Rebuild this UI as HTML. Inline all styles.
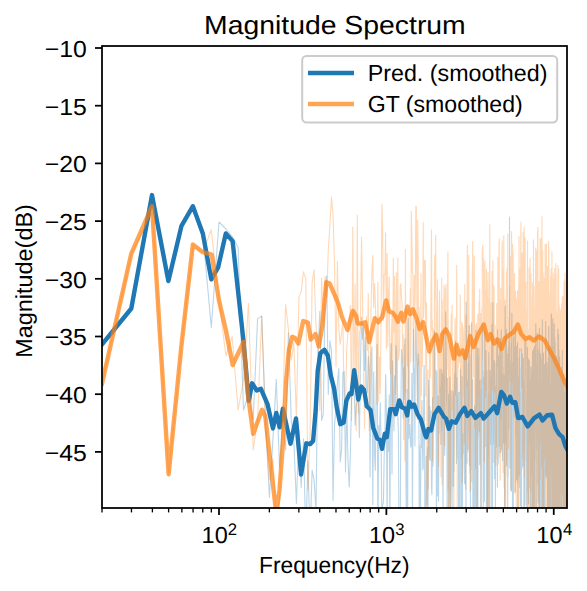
<!DOCTYPE html>
<html><head><meta charset="utf-8"><style>
html,body{margin:0;padding:0;background:#fff;width:587px;height:591px;overflow:hidden}
svg{display:block}
text{font-family:"Liberation Sans",sans-serif;fill:#000;text-rendering:geometricPrecision}
</style></head><body>
<svg width="587" height="591" viewBox="0 0 587 591">
<rect width="587" height="591" fill="#fff"/>
<defs><clipPath id="ax"><rect x="102" y="46" width="465" height="462"/></clipPath></defs>
<g clip-path="url(#ax)" fill="none" stroke-linejoin="round" stroke-linecap="butt">
<polyline points="102.0,344.4 131.5,307.5 152.4,197.1 168.6,280.2 181.9,225.2 193.1,206.7 202.8,233.3 211.3,327.5 219.0,222.0 225.9,229.0 232.2,236.3 238.1,247.3 243.5,410.0 248.5,395.0 253.2,420.0 257.6,318.6 261.7,316.1 265.6,420.0 269.4,497.4 272.9,440.0 276.3,379.4 279.5,467.0 282.6,420.0 285.6,450.0 288.4,332.9 291.2,420.0 293.8,440.0 296.4,503.5 298.9,430.0 301.2,487.5 303.5,438.9 305.8,540.0 307.9,460.7 310.1,540.0 312.1,470.0 314.1,480.4 316.0,511.0 317.9,356.3 319.8,311.4 321.6,420.4 323.3,414.0 325.0,299.2 326.7,276.0 328.3,394.5 329.9,340.8 331.5,350.8 333.0,500.4 334.5,425.4 336.0,407.8 337.4,383.0 338.8,368.6 340.2,462.0 341.6,449.7 342.9,372.6 344.2,371.7 345.5,471.9 346.8,406.4 348.0,460.6 349.2,486.9 350.4,453.3 351.6,395.6 352.8,380.6 353.9,378.8 355.1,425.3 356.2,405.5 357.3,402.2 358.3,397.0 359.4,437.5 360.4,367.3 361.5,317.2 362.5,339.1 363.5,324.3 364.5,370.4 365.5,337.1 366.4,385.5 367.4,393.1 368.3,356.5 369.2,369.4 370.1,476.9 371.1,355.1 371.9,346.7 372.8,504.7 373.7,371.8 374.6,456.6 375.4,470.2 376.2,382.4 377.1,344.5 377.9,540.0 378.7,425.5 379.5,436.1 380.3,402.6 381.1,443.4 381.9,522.0 382.6,504.8 383.4,502.7 384.2,455.2 384.9,442.0 385.6,374.6 386.4,409.2 387.1,525.8 387.8,424.3 388.5,451.4 389.2,394.9 389.9,540.0 390.6,370.9 391.3,343.7 392.0,473.9 392.6,360.8 393.3,394.0 394.0,430.7 394.6,375.7 395.3,416.7 395.9,345.5 396.5,350.8 397.2,405.9 397.8,416.3 398.4,431.5 399.0,540.0 399.6,534.5 400.2,540.0 400.8,422.2 401.4,349.5 402.0,354.0 402.6,367.9 403.2,418.1 403.7,368.1 404.3,399.3 404.9,338.9 405.4,371.1 406.0,487.2 406.6,540.0 407.1,389.6 407.6,540.0 408.2,318.6 408.7,438.4 409.3,427.1 409.8,424.4 410.3,440.6 410.8,447.1 411.3,441.6 411.9,373.3 412.4,527.9 412.9,435.1 413.4,329.3 413.9,373.8 414.4,368.6 414.9,446.0 415.4,342.6 415.8,320.2 416.3,355.4 416.8,361.6 417.3,378.7 417.8,418.7 418.2,353.8 418.7,362.8 419.2,509.6 419.6,445.7 420.1,485.1 420.5,519.3 421.0,425.2 421.4,447.7 421.9,400.3 422.3,428.0 422.8,469.9 423.2,467.4 423.6,411.5 424.1,365.2 424.5,399.7 424.9,540.0 425.4,540.0 425.8,514.0 426.2,456.2 426.6,504.6 427.0,470.5 427.5,447.6 427.9,540.0 428.3,438.2 428.7,380.4 429.1,403.1 429.5,459.1 429.9,406.5 430.3,460.5 430.7,435.0 431.1,410.9 431.5,487.9 431.9,494.6 432.3,450.7 432.6,397.5 433.0,466.1 433.4,422.4 433.8,431.5 434.2,354.6 434.5,330.9 434.9,334.3 435.3,401.3 435.7,418.3 436.0,370.0 436.4,512.1 436.8,371.9 437.1,402.1 437.5,495.9 437.8,416.6 438.2,396.1 438.5,501.0 438.9,429.6 439.3,433.5 439.6,395.9 440.0,368.8 440.3,406.3 440.6,387.1 441.0,444.4 441.3,404.4 441.7,369.7 442.0,389.2 442.3,430.5 442.7,373.5 443.0,511.4 443.4,456.0 443.7,330.2 444.0,368.1 444.3,432.6 444.7,455.3 445.0,376.9 445.3,416.4 445.6,311.7 446.0,344.3 446.3,366.1 446.6,401.7 446.9,406.8 447.2,540.0 447.5,378.2 447.9,489.9 448.2,403.7 448.5,394.2 448.8,540.0 449.1,470.9 449.4,442.9 449.7,391.3 450.0,377.3 450.3,530.5 450.6,495.4 450.9,471.3 451.2,390.2 451.5,401.2 451.8,477.3 452.1,509.2 452.4,431.3 452.7,440.5 453.0,391.3 453.3,486.2 453.6,394.4 453.8,471.3 454.1,431.7 454.4,388.7 454.7,374.1 455.0,420.2 455.3,389.4 455.5,341.0 455.8,358.2 456.1,394.9 456.4,463.4 456.7,377.5 456.9,383.2 457.2,416.0 457.5,399.2 457.8,410.1 458.0,458.8 458.3,392.2 458.6,540.0 458.8,540.0 459.1,492.1 459.4,540.0 459.6,392.4 459.9,457.8 460.2,429.8 460.4,369.1 460.7,482.9 461.0,540.0 461.2,407.1 461.5,429.0 461.7,398.2 462.0,376.2 462.2,540.0 462.5,479.5 462.8,464.3 463.0,433.8 463.3,453.7 463.5,448.9 463.8,435.3 464.0,353.5 464.3,361.6 464.5,483.8 464.8,351.9 465.0,442.5 465.3,445.4 465.5,482.9 465.7,401.3 466.0,540.0 466.2,302.1 466.5,345.0 466.7,441.0 467.0,463.1 467.2,387.8 467.4,381.0 467.7,407.3 467.9,449.1 468.1,419.6 468.4,363.8 468.6,406.1 468.8,349.9 469.1,325.6 469.3,390.9 469.5,465.3 469.8,418.6 470.0,415.0 470.2,430.0 470.5,515.6 470.7,415.7 470.9,469.5 471.1,355.3 471.4,402.3 471.6,322.7 471.8,414.8 472.0,394.3 472.3,408.8 472.5,380.4 472.7,379.7 472.9,540.0 473.2,426.9 473.4,474.2 473.6,499.6 473.8,540.0 474.0,410.7 474.3,481.1 474.5,428.8 474.7,405.8 474.9,472.9 475.1,520.2 475.3,491.3 475.5,530.3 475.8,385.4 476.0,330.4 476.2,383.2 476.4,512.8 476.6,474.6 476.8,387.8 477.0,442.8 477.2,439.1 477.4,347.8 477.6,540.0 477.8,540.0 478.1,406.3 478.3,399.9 478.5,357.0 478.7,407.1 478.9,348.8 479.1,414.7 479.3,437.4 479.5,430.3 479.7,464.7 479.9,434.1 480.1,380.1 480.3,429.0 480.5,433.4 480.7,396.3 480.9,529.5 481.1,469.4 481.3,388.4 481.5,402.1 481.7,379.7 481.9,412.6 482.1,371.3 482.3,334.0 482.4,323.4 482.6,382.9 482.8,410.7 483.0,371.1 483.2,512.1 483.4,411.9 483.6,420.4 483.8,377.6 484.0,442.5 484.2,399.7 484.4,501.7 484.6,439.0 484.7,331.6 484.9,333.2 485.1,409.3 485.3,443.8 485.5,446.5 485.7,433.0 485.9,389.9 486.0,350.5 486.2,396.3 486.4,540.0 486.6,513.1 486.8,370.7 487.0,410.8 487.1,540.0 487.3,413.0 487.5,540.0 487.7,464.4 487.9,432.1 488.0,540.0 488.2,435.6 488.4,393.1 488.6,453.2 488.8,352.6 488.9,355.8 489.1,455.6 489.3,386.0 489.5,510.0 489.6,402.1 489.8,538.7 490.0,370.6 490.2,397.1 490.3,377.2 490.5,430.4 490.7,444.5 490.9,429.4 491.0,387.7 491.2,395.2 491.4,368.7 491.5,406.8 491.7,339.8 491.9,324.9 492.1,336.0 492.2,420.4 492.4,540.0 492.6,479.8 492.7,337.2 492.9,302.6 493.1,371.7 493.2,444.1 493.4,405.1 493.6,393.3 493.7,379.1 493.9,376.0 494.1,360.3 494.2,406.3 494.4,365.2 494.6,478.7 494.7,362.7 494.9,395.0 495.1,419.3 495.2,427.1 495.4,514.0 495.5,490.4 495.7,461.5 495.9,397.5 496.0,386.2 496.2,389.9 496.3,404.4 496.5,360.4 496.7,446.9 496.8,351.5 497.0,337.9 497.1,367.0 497.3,422.4 497.5,486.9 497.6,329.7 497.8,433.1 497.9,380.7 498.1,393.5 498.2,463.9 498.4,419.4 498.6,355.9 498.7,426.6 498.9,419.2 499.0,446.3 499.2,369.3 499.3,394.3 499.5,363.2 499.6,414.8 499.8,351.0 499.9,350.3 500.1,360.3 500.2,452.6 500.4,338.3 500.5,352.9 500.7,352.4 500.8,418.8 501.0,340.2 501.1,363.3 501.3,329.8 501.4,388.1 501.6,381.1 501.7,449.2 501.9,374.5 502.0,450.0 502.2,446.2 502.3,373.9 502.5,386.2 502.6,460.7 502.8,351.9 502.9,385.3 503.1,367.0 503.2,410.5 503.4,402.5 503.5,411.0 503.7,443.0 503.8,383.5 503.9,374.9 504.1,382.9 504.2,422.0 504.4,407.3 504.5,474.3 504.7,506.5 504.8,481.5 504.9,505.1 505.1,306.2 505.2,317.5 505.4,346.5 505.5,405.4 505.7,412.2 505.8,368.6 505.9,406.9 506.1,444.1 506.2,360.5 506.4,329.5 506.5,370.1 506.6,466.0 506.8,399.5 506.9,396.1 507.0,391.8 507.2,438.6 507.3,371.1 507.5,353.8 507.6,392.0 507.7,518.1 507.9,401.7 508.0,458.3 508.1,477.6 508.3,390.9 508.4,347.2 508.6,376.4 508.7,428.7 508.8,347.0 509.0,340.4 509.1,355.3 509.2,337.3 509.4,418.7 509.5,217.0 509.6,300.0 509.8,468.0 509.9,359.8 510.0,370.9 510.2,366.3 510.3,388.9 510.4,387.4 510.6,382.1 510.7,438.1 510.8,490.4 510.9,385.9 511.1,427.1 511.2,348.6 511.3,343.1 511.5,491.3 511.6,452.5 511.7,332.2 511.9,313.2 512.0,441.9 512.1,410.7 512.2,362.1 512.4,398.2 512.5,540.0 512.6,363.3 512.8,388.4 512.9,387.0 513.0,425.2 513.1,394.6 513.3,520.8 513.4,410.4 513.5,343.1 513.6,337.4 513.8,380.6 513.9,417.2 514.0,333.2 514.2,408.6 514.3,348.7 514.4,375.1 514.5,352.0 514.6,348.2 514.8,396.7 514.9,361.5 515.0,356.1 515.1,368.0 515.3,346.2 515.4,492.1 515.5,329.3 515.6,381.5 515.8,426.9 515.9,431.6 516.0,413.9 516.1,412.1 516.2,369.2 516.4,366.5 516.5,346.0 516.6,479.8 516.7,350.9 516.9,392.9 517.0,377.0 517.1,348.7 517.2,365.9 517.3,369.9 517.5,342.3 517.6,393.0 517.7,517.1 517.8,540.0 517.9,379.0 518.1,431.8 518.2,440.4 518.3,389.8 518.4,396.2 518.5,377.2 518.6,387.3 518.8,445.5 518.9,426.6 519.0,477.6 519.1,367.1 519.2,357.4 519.3,394.0 519.5,462.7 519.6,487.6 519.7,348.7 519.8,381.9 519.9,371.9 520.0,367.4 520.2,505.7 520.3,464.7 520.4,406.6 520.5,502.3 520.6,456.1 520.7,392.9 520.8,498.3 521.0,446.5 521.1,402.7 521.2,540.0 521.3,348.9 521.4,402.7 521.5,540.0 521.6,367.7 521.8,365.3 521.9,419.9 522.0,469.0 522.1,406.0 522.2,353.6 522.3,455.7 522.4,406.5 522.5,432.9 522.7,384.8 522.8,362.6 522.9,383.8 523.0,466.1 523.1,374.9 523.2,369.0 523.3,358.3 523.4,404.1 523.5,383.2 523.7,449.8 523.8,417.8 523.9,398.7 524.0,392.6 524.1,395.5 524.2,381.8 524.3,394.4 524.4,528.1 524.5,522.5 524.6,451.8 524.7,409.8 524.9,340.2 525.0,504.7 525.1,462.1 525.2,422.4 525.3,366.7 525.4,365.9 525.5,378.4 525.6,397.7 525.7,411.4 525.8,341.2 525.9,341.1 526.0,364.5 526.1,441.7 526.2,424.2 526.4,461.2 526.5,401.7 526.6,439.0 526.7,500.5 526.8,435.6 526.9,515.8 527.0,485.1 527.1,476.1 527.2,471.6 527.3,492.4 527.4,347.4 527.5,436.7 527.6,400.2 527.7,375.5 527.8,412.5 527.9,419.5 528.0,411.1 528.1,409.9 528.2,429.7 528.3,423.6 528.4,358.8 528.5,504.0 528.6,421.6 528.7,415.0 528.9,380.2 529.0,430.2 529.1,444.9 529.2,361.8 529.3,360.5 529.4,393.3 529.5,401.5 529.6,382.2 529.7,397.5 529.8,394.3 529.9,387.7 530.0,472.5 530.1,487.6 530.2,465.9 530.3,411.1 530.4,380.4 530.5,380.3 530.6,521.6 530.7,504.2 530.8,367.0 530.9,371.1 531.0,417.0 531.1,370.1 531.2,385.1 531.3,478.1 531.4,427.3 531.5,454.5 531.6,375.9 531.7,379.1 531.8,412.9 531.9,540.0 532.0,540.0 532.1,420.0 532.2,422.1 532.3,422.2 532.3,389.5 532.4,361.1 532.5,456.5 532.6,351.3 532.7,515.9 532.8,515.8 532.9,522.9 533.0,438.7 533.1,421.2 533.2,350.5 533.3,355.7 533.4,425.6 533.5,462.1 533.6,397.7 533.7,359.8 533.8,348.4 533.9,540.0 534.0,352.8 534.1,388.2 534.2,401.1 534.3,388.1 534.4,363.3 534.5,410.1 534.6,346.1 534.7,433.3 534.7,540.0 534.8,396.7 534.9,426.2 535.0,540.0 535.1,408.0 535.2,518.7 535.3,540.0 535.4,405.9 535.5,382.1 535.6,361.6 535.7,338.0 535.8,323.9 535.9,418.8 536.0,393.4 536.1,406.6 536.2,416.7 536.2,398.3 536.3,448.8 536.4,417.0 536.5,364.9 536.6,383.9 536.7,459.4 536.8,525.4 536.9,378.7 537.0,377.9 537.1,386.4 537.2,333.1 537.3,365.6 537.3,403.5 537.4,454.7 537.5,484.2 537.6,378.8 537.7,350.2 537.8,381.0 537.9,431.5 538.0,468.0 538.1,434.6 538.2,460.2 538.2,467.1 538.3,502.7 538.4,463.5 538.5,385.3 538.6,400.9 538.7,445.7 538.8,384.9 538.9,494.0 539.0,349.4 539.1,409.5 539.1,361.3 539.2,520.8 539.3,344.9 539.4,328.0 539.5,484.7 539.6,351.2 539.7,437.7 539.8,540.0 539.9,489.3 539.9,502.9 540.0,381.4 540.1,371.7 540.2,466.3 540.3,540.0 540.4,421.9 540.5,435.9 540.6,353.9 540.6,448.1 540.7,511.9 540.8,386.5 540.9,404.8 541.0,380.0 541.1,426.2 541.2,393.8 541.2,476.3 541.3,540.0 541.4,535.5 541.5,390.8 541.6,392.9 541.7,540.0 541.8,359.0 541.8,383.3 541.9,382.5 542.0,507.4 542.1,440.4 542.2,393.5 542.3,319.9 542.4,345.9 542.4,485.5 542.5,540.0 542.6,386.5 542.7,516.2 542.8,388.8 542.9,380.5 543.0,416.5 543.0,409.0 543.1,392.2 543.2,431.5 543.3,508.7 543.4,465.8 543.5,433.9 543.5,353.0 543.6,388.0 543.7,487.6 543.8,493.3 543.9,382.3 544.0,368.4 544.0,540.0 544.1,387.3 544.2,364.5 544.3,449.9 544.4,411.0 544.5,381.5 544.5,396.2 544.6,437.9 544.7,506.8 544.8,365.1 544.9,418.1 544.9,517.8 545.0,388.0 545.1,425.6 545.2,381.1 545.3,397.5 545.4,449.8 545.4,466.8 545.5,361.8 545.6,329.6 545.7,321.6 545.8,347.8 545.8,449.3 545.9,474.3 546.0,338.2 546.1,455.7 546.2,476.9 546.2,470.8 546.3,377.9 546.4,437.5 546.5,438.8 546.6,475.0 546.7,394.5 546.7,391.8 546.8,371.8 546.9,362.5 547.0,373.2 547.1,368.0 547.1,416.2 547.2,441.7 547.3,424.0 547.4,480.1 547.4,385.5 547.5,498.1 547.6,540.0 547.7,429.9 547.8,418.9 547.8,376.0 547.9,478.5 548.0,539.4 548.1,498.8 548.2,436.1 548.2,435.6 548.3,357.2 548.4,405.6 548.5,412.0 548.5,513.5 548.6,445.6 548.7,328.2 548.8,326.4 548.9,486.9 548.9,421.0 549.0,351.9 549.1,429.2 549.2,514.2 549.2,446.0 549.3,465.2 549.4,372.5 549.5,504.1 549.6,379.1 549.6,372.9 549.7,540.0 549.8,446.9 549.9,346.9 549.9,466.3 550.0,483.4 550.1,448.3 550.2,440.3 550.2,512.1 550.3,458.0 550.4,402.8 550.5,540.0 550.6,407.5 550.6,389.5 550.7,450.7 550.8,410.8 550.9,383.4 550.9,440.6 551.0,462.7 551.1,523.0 551.2,336.1 551.2,314.7 551.3,450.1 551.4,314.0 551.5,321.0 551.5,341.4 551.6,349.4 551.7,386.8 551.8,406.8 551.8,398.1 551.9,426.4 552.0,467.8 552.1,393.8 552.1,382.6 552.2,447.4 552.3,444.6 552.4,540.0 552.4,446.7 552.5,404.2 552.6,372.8 552.6,367.3 552.7,341.3 552.8,318.7 552.9,357.7 552.9,449.5 553.0,451.6 553.1,481.6 553.2,524.0 553.2,540.0 553.3,465.4 553.4,347.2 553.5,389.6 553.5,413.3 553.6,382.6 553.7,535.2 553.7,452.1 553.8,492.4 553.9,429.4 554.0,427.0 554.0,485.7 554.1,374.6 554.2,323.9 554.3,337.5 554.3,464.6 554.4,503.7 554.5,374.6 554.5,401.2 554.6,352.5 554.7,338.6 554.8,540.0 554.8,436.7 554.9,401.0 555.0,443.0 555.0,400.7 555.1,342.6 555.2,387.7 555.3,419.2 555.3,540.0 555.4,403.5 555.5,374.3 555.5,361.7 555.6,419.5 555.7,409.7 555.8,414.6 555.8,466.0 555.9,428.5 556.0,477.6 556.0,409.1 556.1,477.9 556.2,540.0 556.2,355.9 556.3,447.4 556.4,400.8 556.5,472.4 556.5,477.5 556.6,508.4 556.7,540.0 556.7,423.8 556.8,449.7 556.9,439.9 556.9,453.5 557.0,390.8 557.1,430.8 557.2,517.1 557.2,371.2 557.3,432.7 557.4,489.4 557.4,417.3 557.5,484.3 557.6,365.8 557.6,526.7 557.7,477.1 557.8,540.0 557.8,367.6 557.9,329.2 558.0,372.5 558.1,510.7 558.1,481.2 558.2,495.0 558.3,534.1 558.3,450.5 558.4,402.0 558.5,457.6 558.5,334.6 558.6,374.1 558.7,455.3 558.7,414.1 558.8,504.0 558.9,405.5 558.9,350.0 559.0,411.6 559.1,441.7 559.1,424.0 559.2,513.7 559.3,382.2 559.3,411.0 559.4,531.1 559.5,523.8 559.5,507.7 559.6,389.8 559.7,357.1 559.7,530.6 559.8,540.0 559.9,446.1 559.9,387.6 560.0,374.1 560.1,432.5 560.1,464.0 560.2,406.9 560.3,410.6 560.3,502.4 560.4,398.1 560.5,453.3 560.5,540.0 560.6,425.8 560.7,502.1 560.7,414.8 560.8,502.1 560.9,452.0 560.9,451.0 561.0,378.7 561.1,540.0 561.1,457.8 561.2,540.0 561.3,475.8 561.3,498.2 561.4,392.4 561.5,463.3 561.5,465.1 561.6,428.5 561.7,367.4 561.7,374.8 561.8,540.0 561.9,391.1 561.9,386.9 562.0,419.3 562.0,510.1 562.1,507.7 562.2,435.4 562.2,477.3 562.3,350.4 562.4,452.4 562.4,428.7 562.5,411.0 562.6,449.5 562.6,382.9 562.7,485.7 562.8,482.7 562.8,417.6 562.9,394.5 563.0,438.9 563.0,494.4 563.1,470.4 563.1,494.0 563.2,419.8 563.3,430.9 563.3,488.6 563.4,419.8 563.5,517.4 563.5,466.6 563.6,374.7 563.7,392.8 563.7,458.7 563.8,398.3 563.8,387.6 563.9,473.8 564.0,513.4 564.0,473.7 564.1,507.4 564.2,400.8 564.2,401.5 564.3,411.7 564.3,411.9 564.4,540.0 564.5,425.6 564.5,397.6 564.6,515.2 564.7,457.4 564.7,392.3 564.8,475.8 564.8,503.2 564.9,395.3 565.0,482.4 565.0,444.3 565.1,401.2 565.2,408.1 565.2,393.6 565.3,404.8 565.3,378.7 565.4,436.1 565.5,449.9 565.5,418.7 565.6,462.2 565.7,477.4 565.7,405.3 565.8,379.3 565.8,540.0 565.9,390.5 566.0,520.2 566.0,489.9 566.1,507.2 566.1,513.2 566.2,433.3 566.3,428.7 566.3,540.0 566.4,416.8 566.5,381.7 566.5,409.2 566.6,405.6 566.6,466.7 566.7,456.7 566.8,408.3 566.8,431.6 566.9,408.6 566.9,431.4 567.0,362.2" stroke="#1f77b4" stroke-opacity="0.3" stroke-width="1.1"/>
<polyline points="102.0,383.5 131.5,253.2 152.4,212.4 168.6,474.1 181.9,341.8 193.1,244.6 202.8,252.2 211.3,229.7 219.0,300.0 225.9,356.0 232.2,336.4 238.1,410.0 243.5,380.0 248.5,303.4 253.2,450.0 257.6,420.0 261.7,316.0 265.6,430.0 269.4,480.0 272.9,458.9 276.3,520.0 279.5,500.0 282.6,420.0 285.6,304.0 288.4,329.0 291.2,360.0 293.8,342.6 296.4,418.6 298.9,297.5 301.2,291.6 303.5,271.9 305.8,278.6 307.9,490.0 310.1,431.9 312.1,283.2 314.1,269.9 316.0,326.9 317.9,342.3 319.8,410.4 321.6,278.0 323.3,326.3 325.0,276.4 326.7,297.1 328.3,250.0 329.9,225.0 331.5,197.0 333.0,215.0 334.5,262.0 336.0,366.8 337.4,261.6 338.8,328.2 340.2,344.3 341.6,333.0 342.9,321.1 344.2,408.2 345.5,400.4 346.8,347.7 348.0,332.3 349.2,320.2 350.4,305.6 351.6,420.6 352.8,227.0 353.9,385.5 355.1,283.9 356.2,430.4 357.3,215.0 358.3,413.3 359.4,333.4 360.4,328.5 361.5,237.1 362.5,298.5 363.5,367.3 364.5,428.6 365.5,366.1 366.4,316.4 367.4,350.4 368.3,293.6 369.2,430.3 370.1,383.2 371.1,306.9 371.9,272.7 372.8,255.5 373.7,307.9 374.6,283.6 375.4,305.1 376.2,332.6 377.1,404.5 377.9,282.3 378.7,401.8 379.5,357.2 380.3,393.4 381.1,308.7 381.9,204.2 382.6,228.0 383.4,320.8 384.2,274.1 384.9,274.4 385.6,232.9 386.4,348.8 387.1,253.6 387.8,346.5 388.5,296.6 389.2,276.7 389.9,365.0 390.6,373.7 391.3,334.9 392.0,315.7 392.6,408.0 393.3,258.3 394.0,332.0 394.6,276.4 395.3,394.1 395.9,326.1 396.5,272.8 397.2,406.9 397.8,257.7 398.4,359.8 399.0,357.1 399.6,348.6 400.2,285.4 400.8,283.7 401.4,295.3 402.0,302.1 402.6,361.6 403.2,334.3 403.7,439.7 404.3,344.7 404.9,461.0 405.4,249.6 406.0,392.8 406.6,308.5 407.1,347.4 407.6,366.2 408.2,308.0 408.7,386.7 409.3,422.4 409.8,311.5 410.3,288.4 410.8,362.1 411.3,211.2 411.9,239.6 412.4,272.4 412.9,272.2 413.4,360.7 413.9,342.6 414.4,275.2 414.9,315.3 415.4,279.4 415.8,206.3 416.3,206.3 416.8,284.7 417.3,419.5 417.8,220.0 418.2,273.8 418.7,365.1 419.2,307.4 419.6,370.3 420.1,422.7 420.5,346.4 421.0,273.7 421.4,396.1 421.9,318.3 422.3,366.7 422.8,316.2 423.2,222.4 423.6,318.0 424.1,303.6 424.5,260.6 424.9,278.7 425.4,260.4 425.8,396.3 426.2,318.7 426.6,302.6 427.0,509.8 427.5,436.4 427.9,370.1 428.3,489.0 428.7,434.9 429.1,454.0 429.5,345.4 429.9,370.1 430.3,377.8 430.7,333.2 431.1,274.5 431.5,229.7 431.9,330.6 432.3,320.0 432.6,461.2 433.0,328.3 433.4,398.1 433.8,331.4 434.2,410.5 434.5,261.6 434.9,255.1 435.3,299.2 435.7,235.2 436.0,341.6 436.4,311.8 436.8,344.2 437.1,319.2 437.5,279.8 437.8,354.2 438.2,419.3 438.5,466.0 438.9,341.9 439.3,314.7 439.6,291.1 440.0,392.2 440.3,374.1 440.6,353.8 441.0,476.8 441.3,444.8 441.7,278.1 442.0,485.1 442.3,300.8 442.7,382.6 443.0,414.1 443.4,365.6 443.7,325.3 444.0,285.1 444.3,439.6 444.7,445.3 445.0,307.3 445.3,288.6 445.6,297.4 446.0,284.0 446.3,320.0 446.6,416.8 446.9,328.6 447.2,369.1 447.5,305.1 447.9,251.9 448.2,340.2 448.5,358.0 448.8,540.0 449.1,390.6 449.4,346.2 449.7,368.4 450.0,348.6 450.3,540.0 450.6,337.4 450.9,341.8 451.2,314.6 451.5,345.7 451.8,333.9 452.1,305.1 452.4,409.6 452.7,395.0 453.0,350.7 453.3,415.4 453.6,385.4 453.8,540.0 454.1,463.3 454.4,355.3 454.7,366.3 455.0,317.7 455.3,323.2 455.5,395.1 455.8,326.9 456.1,343.0 456.4,389.8 456.7,265.4 456.9,291.9 457.2,524.7 457.5,342.3 457.8,418.1 458.0,342.0 458.3,367.4 458.6,367.1 458.8,350.4 459.1,361.9 459.4,358.6 459.6,358.9 459.9,362.3 460.2,294.7 460.4,352.8 460.7,393.8 461.0,343.7 461.2,404.6 461.5,456.7 461.7,321.7 462.0,395.0 462.2,482.7 462.5,324.4 462.8,396.7 463.0,335.0 463.3,353.2 463.5,344.9 463.8,345.0 464.0,327.6 464.3,443.6 464.5,355.2 464.8,284.5 465.0,358.9 465.3,327.0 465.5,382.3 465.7,489.4 466.0,315.3 466.2,331.3 466.5,319.2 466.7,385.6 467.0,351.4 467.2,256.4 467.4,245.3 467.7,334.0 467.9,398.0 468.1,452.2 468.4,379.6 468.6,431.6 468.8,255.2 469.1,364.8 469.3,390.2 469.5,473.1 469.8,325.6 470.0,339.4 470.2,491.5 470.5,421.1 470.7,489.4 470.9,346.1 471.1,413.7 471.4,400.5 471.6,355.2 471.8,481.2 472.0,347.6 472.3,273.7 472.5,264.7 472.7,241.5 472.9,315.9 473.2,350.5 473.4,287.1 473.6,376.9 473.8,366.6 474.0,275.3 474.3,255.9 474.5,331.2 474.7,427.2 474.9,426.7 475.1,332.8 475.3,324.9 475.5,468.5 475.8,374.8 476.0,413.6 476.2,350.1 476.4,416.4 476.6,323.1 476.8,364.7 477.0,426.0 477.2,540.0 477.4,363.1 477.6,383.4 477.8,316.2 478.1,314.0 478.3,360.2 478.5,396.6 478.7,332.2 478.9,430.6 479.1,301.3 479.3,386.4 479.5,431.8 479.7,289.2 479.9,385.0 480.1,324.8 480.3,364.6 480.5,355.0 480.7,313.5 480.9,397.1 481.1,516.8 481.3,370.2 481.5,380.7 481.7,308.8 481.9,323.3 482.1,360.0 482.3,250.8 482.4,248.5 482.6,258.3 482.8,245.0 483.0,255.3 483.2,265.3 483.4,258.1 483.6,317.1 483.8,384.0 484.0,349.6 484.2,462.0 484.4,411.5 484.6,282.2 484.7,265.2 484.9,260.8 485.1,302.8 485.3,327.4 485.5,397.2 485.7,290.7 485.9,344.9 486.0,313.7 486.2,328.8 486.4,269.0 486.6,390.3 486.8,307.0 487.0,297.1 487.1,333.9 487.3,522.3 487.5,470.1 487.7,280.3 487.9,359.6 488.0,272.4 488.2,289.3 488.4,449.8 488.6,540.0 488.8,298.6 488.9,318.9 489.1,437.4 489.3,321.8 489.5,336.6 489.6,267.3 489.8,224.9 490.0,352.1 490.2,312.8 490.3,305.6 490.5,402.9 490.7,366.9 490.9,305.1 491.0,302.8 491.2,319.2 491.4,540.0 491.5,369.0 491.7,335.5 491.9,297.1 492.1,271.2 492.2,351.8 492.4,327.6 492.6,347.1 492.7,390.3 492.9,260.8 493.1,324.2 493.2,318.8 493.4,286.0 493.6,319.5 493.7,462.4 493.9,365.6 494.1,285.9 494.2,375.0 494.4,342.1 494.6,370.9 494.7,353.1 494.9,392.2 495.1,325.8 495.2,389.9 495.4,359.4 495.5,359.4 495.7,337.8 495.9,406.7 496.0,465.7 496.2,351.5 496.3,458.5 496.5,390.0 496.7,303.5 496.8,317.4 497.0,353.8 497.1,333.9 497.3,341.2 497.5,333.0 497.6,349.1 497.8,366.2 497.9,257.2 498.1,258.2 498.2,260.9 498.4,407.4 498.6,411.2 498.7,313.8 498.9,292.4 499.0,243.9 499.2,238.7 499.3,457.0 499.5,441.6 499.6,348.8 499.8,300.2 499.9,314.4 500.1,452.9 500.2,480.1 500.4,388.9 500.5,398.4 500.7,288.0 500.8,318.7 501.0,347.9 501.1,346.3 501.3,452.1 501.4,305.3 501.6,311.3 501.7,397.9 501.9,336.4 502.0,248.8 502.2,240.9 502.3,265.1 502.5,290.1 502.6,297.3 502.8,333.3 502.9,406.6 503.1,472.6 503.2,330.3 503.4,269.2 503.5,422.7 503.7,410.9 503.8,235.7 503.9,268.0 504.1,487.2 504.2,480.6 504.4,427.8 504.5,322.5 504.7,537.2 504.8,301.3 504.9,318.3 505.1,326.1 505.2,299.8 505.4,337.4 505.5,429.3 505.7,540.0 505.8,372.7 505.9,406.3 506.1,474.9 506.2,307.6 506.4,272.8 506.5,321.8 506.6,461.8 506.8,449.5 506.9,268.4 507.0,302.5 507.2,376.8 507.3,331.6 507.5,391.6 507.6,364.4 507.7,234.0 507.9,330.3 508.0,338.3 508.1,371.9 508.3,339.1 508.4,379.3 508.6,448.5 508.7,353.5 508.8,366.5 509.0,322.9 509.1,316.9 509.2,368.3 509.4,311.4 509.5,339.4 509.6,372.1 509.8,353.2 509.9,286.8 510.0,378.9 510.2,381.6 510.3,289.0 510.4,312.5 510.6,284.5 510.7,256.5 510.8,330.7 510.9,365.1 511.1,489.3 511.2,306.5 511.3,285.9 511.5,231.5 511.6,235.3 511.7,280.5 511.9,397.3 512.0,403.4 512.1,386.9 512.2,316.6 512.4,384.2 512.5,372.5 512.6,244.1 512.8,295.6 512.9,313.3 513.0,316.3 513.1,251.5 513.3,272.1 513.4,326.7 513.5,309.4 513.6,396.3 513.8,290.7 513.9,378.1 514.0,321.2 514.2,391.5 514.3,413.4 514.4,492.7 514.5,273.6 514.6,318.9 514.8,322.4 514.9,437.8 515.0,380.0 515.1,332.8 515.3,293.4 515.4,380.1 515.5,315.6 515.6,291.2 515.8,304.9 515.9,383.5 516.0,304.8 516.1,354.4 516.2,540.0 516.4,298.5 516.5,318.4 516.6,393.4 516.7,299.5 516.9,385.4 517.0,438.6 517.1,432.9 517.2,339.7 517.3,483.0 517.5,396.8 517.6,290.9 517.7,377.1 517.8,399.9 517.9,441.8 518.1,293.4 518.2,338.2 518.3,540.0 518.4,379.7 518.5,540.0 518.6,295.3 518.8,284.0 518.9,336.9 519.0,236.4 519.1,343.3 519.2,345.8 519.3,291.4 519.5,389.7 519.6,474.8 519.7,338.2 519.8,316.0 519.9,268.8 520.0,327.5 520.2,350.8 520.3,298.3 520.4,339.4 520.5,330.6 520.6,282.1 520.7,268.7 520.8,230.8 521.0,222.1 521.1,349.8 521.2,301.9 521.3,275.6 521.4,308.2 521.5,279.7 521.6,325.1 521.8,387.8 521.9,302.6 522.0,253.1 522.1,287.8 522.2,293.4 522.3,301.5 522.4,268.3 522.5,266.7 522.7,367.8 522.8,412.1 522.9,459.1 523.0,440.0 523.1,324.0 523.2,232.3 523.3,369.2 523.4,271.1 523.5,354.2 523.7,539.2 523.8,342.9 523.9,262.7 524.0,328.8 524.1,226.7 524.2,241.0 524.3,476.9 524.4,295.4 524.5,305.2 524.6,375.3 524.7,281.2 524.9,343.3 525.0,266.4 525.1,237.8 525.2,296.0 525.3,285.3 525.4,297.0 525.5,283.3 525.6,282.6 525.7,322.3 525.8,317.4 525.9,327.6 526.0,281.9 526.1,416.8 526.2,317.7 526.4,314.9 526.5,358.9 526.6,309.9 526.7,322.8 526.8,369.4 526.9,324.8 527.0,380.8 527.1,347.8 527.2,418.2 527.3,540.0 527.4,265.3 527.5,241.1 527.6,293.2 527.7,435.6 527.8,459.1 527.9,518.7 528.0,367.5 528.1,396.7 528.2,420.9 528.3,364.6 528.4,339.2 528.5,330.1 528.6,401.5 528.7,344.7 528.9,389.5 529.0,540.0 529.1,275.5 529.2,267.8 529.3,319.1 529.4,407.5 529.5,358.4 529.6,458.3 529.7,317.7 529.8,440.4 529.9,395.6 530.0,540.0 530.1,258.6 530.2,319.2 530.3,387.0 530.4,330.7 530.5,350.3 530.6,325.8 530.7,367.7 530.8,491.2 530.9,286.6 531.0,273.6 531.1,304.9 531.2,408.0 531.3,412.9 531.4,338.4 531.5,348.5 531.6,387.3 531.7,472.9 531.8,361.1 531.9,420.4 532.0,376.1 532.1,340.1 532.2,352.7 532.3,295.5 532.3,540.0 532.4,345.5 532.5,313.1 532.6,282.8 532.7,319.1 532.8,300.4 532.9,418.3 533.0,283.3 533.1,540.0 533.2,385.9 533.3,305.4 533.4,284.8 533.5,239.7 533.6,295.6 533.7,383.1 533.8,308.2 533.9,496.9 534.0,447.2 534.1,307.5 534.2,382.5 534.3,540.0 534.4,461.3 534.5,379.9 534.6,343.2 534.7,335.8 534.7,460.5 534.8,350.5 534.9,434.2 535.0,286.6 535.1,359.1 535.2,399.5 535.3,341.8 535.4,410.4 535.5,406.1 535.6,274.3 535.7,247.9 535.8,329.2 535.9,281.3 536.0,266.2 536.1,316.8 536.2,310.9 536.2,540.0 536.3,478.0 536.4,275.2 536.5,390.5 536.6,288.2 536.7,250.7 536.8,401.5 536.9,397.8 537.0,403.0 537.1,315.7 537.2,283.6 537.3,410.9 537.3,387.9 537.4,272.8 537.5,231.5 537.6,237.5 537.7,255.0 537.8,450.1 537.9,227.4 538.0,279.8 538.1,540.0 538.2,317.3 538.2,333.8 538.3,415.8 538.4,524.3 538.5,418.7 538.6,439.5 538.7,464.9 538.8,413.6 538.9,365.2 539.0,350.5 539.1,281.3 539.1,518.6 539.2,540.0 539.3,328.2 539.4,521.3 539.5,401.5 539.6,337.0 539.7,447.5 539.8,383.3 539.9,478.8 539.9,451.7 540.0,282.9 540.1,238.0 540.2,312.1 540.3,283.1 540.4,287.0 540.5,322.9 540.6,351.1 540.6,339.1 540.7,332.0 540.8,339.9 540.9,285.9 541.0,305.8 541.1,443.4 541.2,239.1 541.2,253.6 541.3,409.2 541.4,292.9 541.5,354.6 541.6,459.0 541.7,467.7 541.8,417.3 541.8,351.4 541.9,280.7 542.0,216.7 542.1,286.9 542.2,397.2 542.3,283.1 542.4,295.0 542.4,293.3 542.5,540.0 542.6,343.4 542.7,250.9 542.8,288.4 542.9,373.5 543.0,397.2 543.0,328.7 543.1,273.0 543.2,540.0 543.3,466.1 543.4,465.5 543.5,456.8 543.5,407.4 543.6,367.7 543.7,445.1 543.8,518.2 543.9,389.6 544.0,386.7 544.0,278.4 544.1,454.7 544.2,328.1 544.3,293.4 544.4,458.4 544.5,451.9 544.5,279.5 544.6,315.4 544.7,280.4 544.8,316.9 544.9,349.8 544.9,420.4 545.0,406.7 545.1,244.3 545.2,277.0 545.3,295.3 545.4,420.9 545.4,413.4 545.5,275.6 545.6,340.8 545.7,481.2 545.8,293.2 545.8,381.8 545.9,440.4 546.0,540.0 546.1,426.3 546.2,540.0 546.2,268.9 546.3,256.7 546.4,244.0 546.5,271.4 546.6,371.4 546.7,354.5 546.7,403.2 546.8,540.0 546.9,540.0 547.0,329.2 547.1,285.9 547.1,291.6 547.2,429.5 547.3,312.7 547.4,337.7 547.4,452.7 547.5,330.4 547.6,266.5 547.7,276.0 547.8,426.9 547.8,469.9 547.9,405.3 548.0,540.0 548.1,318.9 548.2,326.7 548.2,415.6 548.3,407.9 548.4,474.2 548.5,308.6 548.5,243.9 548.6,241.4 548.7,307.2 548.8,540.0 548.9,324.5 548.9,250.3 549.0,287.1 549.1,540.0 549.2,407.5 549.2,291.4 549.3,358.2 549.4,332.6 549.5,349.4 549.6,297.3 549.6,345.5 549.7,325.5 549.8,438.0 549.9,307.0 549.9,333.4 550.0,514.7 550.1,464.0 550.2,474.6 550.2,439.1 550.3,353.6 550.4,456.6 550.5,382.6 550.6,277.1 550.6,287.8 550.7,319.6 550.8,334.5 550.9,432.4 550.9,341.1 551.0,314.8 551.1,268.7 551.2,277.8 551.2,315.5 551.3,540.0 551.4,385.4 551.5,318.0 551.5,428.0 551.6,414.9 551.7,381.5 551.8,359.1 551.8,390.1 551.9,251.7 552.0,281.9 552.1,312.8 552.1,380.0 552.2,401.3 552.3,461.3 552.4,332.9 552.4,487.1 552.5,319.7 552.6,452.3 552.6,540.0 552.7,441.6 552.8,358.6 552.9,540.0 552.9,540.0 553.0,371.4 553.1,540.0 553.2,327.2 553.2,273.1 553.3,419.9 553.4,378.0 553.5,430.8 553.5,346.4 553.6,413.0 553.7,497.5 553.7,540.0 553.8,361.4 553.9,429.9 554.0,326.4 554.0,278.8 554.1,350.7 554.2,349.1 554.3,369.9 554.3,537.4 554.4,369.1 554.5,314.0 554.5,401.1 554.6,368.2 554.7,268.3 554.8,294.9 554.8,371.4 554.9,407.3 555.0,421.9 555.0,335.6 555.1,296.5 555.2,473.8 555.3,487.0 555.3,540.0 555.4,370.2 555.5,312.1 555.5,495.4 555.6,540.0 555.7,377.5 555.8,263.6 555.8,458.5 555.9,452.0 556.0,329.3 556.0,459.2 556.1,275.1 556.2,395.1 556.2,539.5 556.3,540.0 556.4,540.0 556.5,540.0 556.5,371.6 556.6,310.8 556.7,336.6 556.7,333.3 556.8,344.5 556.9,461.3 556.9,314.6 557.0,328.4 557.1,442.6 557.2,352.1 557.2,426.0 557.3,540.0 557.4,419.3 557.4,349.0 557.5,366.2 557.6,323.6 557.6,540.0 557.7,325.8 557.8,372.1 557.8,367.3 557.9,265.2 558.0,329.4 558.1,289.3 558.1,302.4 558.2,540.0 558.3,464.4 558.3,421.5 558.4,386.9 558.5,469.8 558.5,412.7 558.6,307.3 558.7,360.2 558.7,269.0 558.8,391.1 558.9,448.6 558.9,370.3 559.0,348.7 559.1,392.8 559.1,304.0 559.2,540.0 559.3,390.7 559.3,479.9 559.4,313.3 559.5,540.0 559.5,403.8 559.6,340.6 559.7,387.9 559.7,313.8 559.8,308.0 559.9,422.8 559.9,540.0 560.0,540.0 560.1,361.1 560.1,407.2 560.2,331.7 560.3,341.9 560.3,376.6 560.4,344.0 560.5,493.4 560.5,452.9 560.6,332.9 560.7,402.4 560.7,481.5 560.8,321.0 560.9,316.1 560.9,310.5 561.0,422.1 561.1,359.0 561.1,401.7 561.2,320.3 561.3,446.3 561.3,367.2 561.4,540.0 561.5,392.2 561.5,313.4 561.6,303.8 561.7,467.7 561.7,484.4 561.8,376.8 561.9,311.1 561.9,456.1 562.0,406.3 562.0,540.0 562.1,496.6 562.2,540.0 562.2,458.6 562.3,296.8 562.4,484.7 562.4,474.7 562.5,501.1 562.6,402.7 562.6,441.3 562.7,396.0 562.8,328.5 562.8,470.1 562.9,461.4 563.0,346.2 563.0,344.6 563.1,420.3 563.1,330.4 563.2,390.7 563.3,385.0 563.3,296.3 563.4,441.0 563.5,468.0 563.5,540.0 563.6,540.0 563.7,333.7 563.7,418.8 563.8,351.5 563.8,343.8 563.9,380.9 564.0,319.4 564.0,281.7 564.1,376.4 564.2,465.5 564.2,533.3 564.3,416.3 564.3,431.8 564.4,334.0 564.5,279.8 564.5,358.2 564.6,353.0 564.7,343.1 564.7,369.9 564.8,400.3 564.8,540.0 564.9,371.3 565.0,420.6 565.0,273.1 565.1,384.8 565.2,409.4 565.2,300.9 565.3,432.7 565.3,501.6 565.4,494.9 565.5,372.4 565.5,540.0 565.6,329.5 565.7,324.3 565.7,401.7 565.8,355.1 565.8,367.5 565.9,334.1 566.0,406.3 566.0,311.2 566.1,449.2 566.1,302.6 566.2,281.8 566.3,540.0 566.3,487.8 566.4,540.0 566.5,467.0 566.5,449.7 566.6,540.0 566.6,394.1 566.7,428.4 566.8,351.4 566.8,540.0 566.9,460.2 566.9,373.1 567.0,346.0" stroke="#ff7f0e" stroke-opacity="0.3" stroke-width="1.1"/>
<polyline points="102.0,344.4 131.3,308.5 152.0,195.1 168.4,281.1 181.5,225.8 192.9,206.2 202.8,233.4 211.3,279.4 218.1,267.5 225.8,233.4 232.6,241.1 243.5,341.3 248.8,400.9 252.1,383.3 256.8,390.5 260.9,388.8 267.5,404.2 273.0,428.4 276.3,413.0 279.6,427.3 282.9,408.6 290.5,443.7 296.0,418.5 301.1,474.5 306.3,443.3 310.1,444.1 313.1,441.0 315.7,410.0 317.7,370.9 320.4,353.2 324.5,349.8 327.9,355.9 330.7,375.0 334.1,388.6 336.8,407.7 340.3,424.2 343.7,422.5 346.3,400.9 349.7,393.4 351.5,394.0 354.2,370.2 355.9,381.8 358.3,399.5 361.3,386.6 364.1,390.0 366.8,406.3 370.5,410.0 373.2,427.7 377.3,438.6 380.0,440.0 382.0,448.8 384.8,433.8 386.8,437.2 390.2,409.3 394.3,409.3 395.7,414.1 399.3,400.4 401.8,407.3 405.2,408.6 407.2,415.4 409.3,401.8 412.0,406.6 414.1,404.5 417.5,414.1 420.9,419.5 425.0,434.5 426.3,437.2 428.4,429.1 431.1,430.4 434.5,414.1 438.6,407.9 444.0,416.8 446.1,418.6 448.9,428.8 451.6,421.3 455.7,422.7 459.8,414.5 464.5,407.7 467.3,415.9 471.3,411.1 475.4,417.9 480.9,413.2 483.6,418.6 488.4,413.2 494.5,406.3 497.2,413.2 501.3,392.0 504.1,395.4 506.8,403.6 510.1,396.8 512.3,402.8 515.3,402.2 518.2,418.1 522.4,417.0 527.7,426.4 534.2,418.1 539.5,414.6 542.5,420.5 547.2,415.2 552.0,414.6 555.5,428.2 559.1,434.1 562.6,437.1 565.6,446.5 567.0,448.9" stroke="#1f77b4" stroke-width="4.4" stroke-linecap="square"/>
<polyline points="102.0,383.5 131.3,253.6 152.0,206.2 168.6,474.2 181.5,345.0 192.9,244.5 202.8,252.2 211.7,254.7 218.9,300.0 225.8,330.0 232.7,365.0 243.5,342.0 247.7,393.2 253.2,433.8 262.0,409.7 265.3,416.3 268.6,445.9 276.3,514.0 279.5,490.0 282.9,443.7 286.2,380.0 288.9,350.0 292.3,336.8 295.0,338.1 298.4,343.6 303.2,321.1 307.9,322.5 310.7,339.5 315.4,334.1 318.8,346.3 322.2,327.2 326.3,282.3 329.7,283.6 333.8,293.2 337.9,302.7 342.0,317.0 347.5,330.0 352.9,310.9 356.3,316.3 357.7,323.6 361.8,323.6 365.2,322.2 369.3,342.0 374.8,318.2 378.2,322.2 382.3,316.8 386.1,300.4 389.1,311.3 392.5,312.7 395.9,316.8 397.9,321.6 401.3,312.7 403.4,321.6 407.5,306.6 410.2,314.1 412.9,309.3 417.0,319.5 419.7,329.1 423.1,322.2 429.3,351.5 432.7,340.9 436.1,334.8 439.5,351.1 442.3,334.1 445.7,329.3 449.1,335.4 453.9,358.6 456.6,345.0 459.3,354.5 462.7,350.4 465.4,357.9 470.2,336.1 473.6,347.0 478.4,334.1 483.8,324.5 487.9,340.2 490.6,334.1 494.1,343.6 497.5,339.5 501.6,349.1 505.0,338.2 508.5,335.5 513.5,332.1 517.8,324.5 521.1,333.8 525.4,338.9 529.6,337.2 533.8,340.6 538.9,336.4 544.8,340.6 549.0,349.0 554.1,358.3 559.2,369.3 565.1,382.9 567.0,386.0" stroke="#ff7f0e" stroke-opacity="0.7" stroke-width="4.4" stroke-linecap="square"/>
</g>
<g stroke="#000" stroke-width="1.76"><line x1="95.0" y1="48.00" x2="102" y2="48.00" /><line x1="95.0" y1="105.70" x2="102" y2="105.70" /><line x1="95.0" y1="163.40" x2="102" y2="163.40" /><line x1="95.0" y1="221.10" x2="102" y2="221.10" /><line x1="95.0" y1="278.80" x2="102" y2="278.80" /><line x1="95.0" y1="336.50" x2="102" y2="336.50" /><line x1="95.0" y1="394.20" x2="102" y2="394.20" /><line x1="95.0" y1="451.90" x2="102" y2="451.90" /><line x1="218.99" y1="508" x2="218.99" y2="514.9" /><line x1="386.37" y1="508" x2="386.37" y2="514.9" /><line x1="553.75" y1="508" x2="553.75" y2="514.9" /></g>
<g stroke="#000" stroke-width="1.32"><line x1="102.00" y1="508" x2="102.00" y2="512.4" /><line x1="131.47" y1="508" x2="131.47" y2="512.4" /><line x1="152.39" y1="508" x2="152.39" y2="512.4" /><line x1="168.61" y1="508" x2="168.61" y2="512.4" /><line x1="181.86" y1="508" x2="181.86" y2="512.4" /><line x1="193.06" y1="508" x2="193.06" y2="512.4" /><line x1="202.77" y1="508" x2="202.77" y2="512.4" /><line x1="211.33" y1="508" x2="211.33" y2="512.4" /><line x1="269.38" y1="508" x2="269.38" y2="512.4" /><line x1="298.85" y1="508" x2="298.85" y2="512.4" /><line x1="319.76" y1="508" x2="319.76" y2="512.4" /><line x1="335.98" y1="508" x2="335.98" y2="512.4" /><line x1="349.24" y1="508" x2="349.24" y2="512.4" /><line x1="360.44" y1="508" x2="360.44" y2="512.4" /><line x1="370.15" y1="508" x2="370.15" y2="512.4" /><line x1="378.71" y1="508" x2="378.71" y2="512.4" /><line x1="436.75" y1="508" x2="436.75" y2="512.4" /><line x1="466.23" y1="508" x2="466.23" y2="512.4" /><line x1="487.14" y1="508" x2="487.14" y2="512.4" /><line x1="503.36" y1="508" x2="503.36" y2="512.4" /><line x1="516.61" y1="508" x2="516.61" y2="512.4" /><line x1="527.82" y1="508" x2="527.82" y2="512.4" /><line x1="537.53" y1="508" x2="537.53" y2="512.4" /><line x1="546.09" y1="508" x2="546.09" y2="512.4" /></g>
<rect x="102" y="46" width="465" height="462" fill="none" stroke="#000" stroke-width="1.76" stroke-linejoin="miter"/>
<text x="0" y="0" font-size="23.20" transform="translate(44.76 56.85) scale(1.0690 1)">−10</text><text x="0" y="0" font-size="23.20" transform="translate(44.76 114.55) scale(1.0690 1)">−15</text><text x="0" y="0" font-size="23.20" transform="translate(44.76 172.25) scale(1.0690 1)">−20</text><text x="0" y="0" font-size="23.20" transform="translate(44.76 229.95) scale(1.0690 1)">−25</text><text x="0" y="0" font-size="23.20" transform="translate(44.76 287.65) scale(1.0690 1)">−30</text><text x="0" y="0" font-size="23.20" transform="translate(44.76 345.35) scale(1.0690 1)">−35</text><text x="0" y="0" font-size="23.20" transform="translate(44.76 403.05) scale(1.0690 1)">−40</text><text x="0" y="0" font-size="23.20" transform="translate(44.76 460.75) scale(1.0690 1)">−45</text>
<text x="0" y="0" font-size="23.20" transform="translate(201.61 542.70) scale(1.0140 1)">10</text><text x="0" y="0" font-size="16.70" transform="translate(227.76 534.90) scale(1.0000 1)">2</text><text x="0" y="0" font-size="23.20" transform="translate(368.99 542.70) scale(1.0140 1)">10</text><text x="0" y="0" font-size="16.70" transform="translate(395.30 534.90) scale(1.0000 1)">3</text><text x="0" y="0" font-size="23.20" transform="translate(536.37 542.70) scale(1.0140 1)">10</text><text x="0" y="0" font-size="16.70" transform="translate(563.01 534.90) scale(1.0000 1)">4</text>
<text x="0" y="0" font-size="26.10" transform="translate(204.03 33.85) scale(1.0870 1)">Magnitude Spectrum</text>
<text x="0" y="0" font-size="23.20" transform="translate(259.10 572.88) scale(0.9810 1)">Frequency(Hz)</text>
<text x="0" y="0" font-size="23.2" transform="translate(32.1 357.77) rotate(-90) scale(1.01 1)">Magnitude(dB)</text>
<rect x="302.2" y="55.9" width="255" height="66.6" rx="4.4" fill="#fff" fill-opacity="0.8" stroke="#cccccc" stroke-width="2"/>
<line x1="308" y1="73" x2="354" y2="73" stroke="#1f77b4" stroke-width="4.4"/>
<line x1="308" y1="104" x2="354" y2="104" stroke="#ff7f0e" stroke-opacity="0.7" stroke-width="4.4"/>
<text x="0" y="0" font-size="23.20" transform="translate(367.74 81.00) scale(1.0030 1)">Pred. (smoothed)</text>
<text x="0" y="0" font-size="23.20" transform="translate(367.74 112.00) scale(0.9970 1)">GT (smoothed)</text>
</svg>
</body></html>
